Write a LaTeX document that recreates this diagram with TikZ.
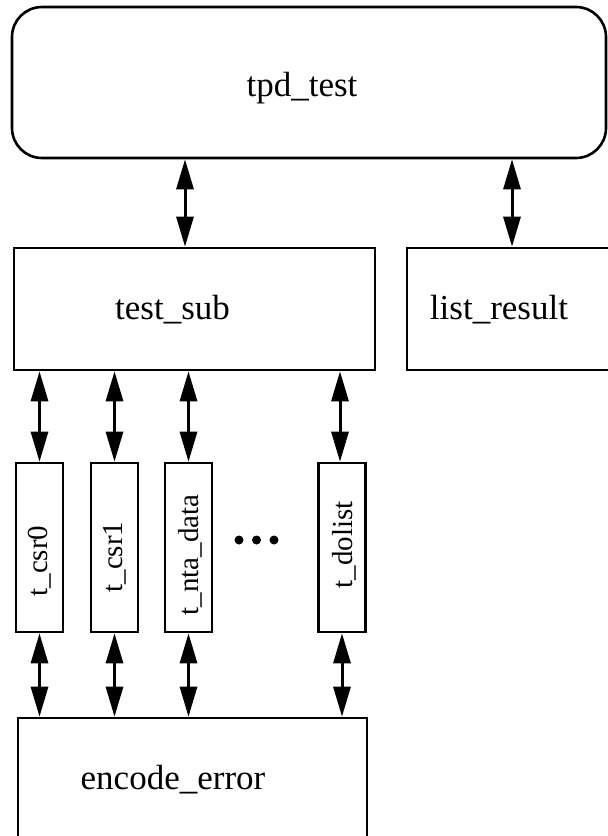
\documentclass[tikz,border=0pt]{standalone}
\usepackage{fontspec}
\setmainfont{Liberation Serif}
\usetikzlibrary{arrows.meta}
\begin{document}
\begin{tikzpicture}[x=1pt,y=-1pt,
  box/.style={draw=black,line width=2.6pt,inner sep=0pt},
  lbl/.style={font=\fontsize{35}{40}\selectfont,inner sep=0pt},
  slbl/.style={font=\fontsize{29}{32}\selectfont,inner sep=0pt,rotate=90},
  dbl/.style={line width=3pt,{Triangle[length=30pt,width=17pt]}-{Triangle[length=30pt,width=17pt]},shorten <=0pt,shorten >=0pt}]
\useasboundingbox (0,0) rectangle (608,836);
% boxes
\node[box,rounded corners=30pt,minimum width=594pt,minimum height=151pt] (tpd) at (309,82.5) {};
\node[lbl] (tpdt) at (302,88) {tpd\_test};
\node[box,minimum width=361pt,minimum height=122pt] (tsub) at (194.5,309) {};
\node[lbl] (tsubt) at (172.5,310) {test\_sub};
\node[box,minimum width=210pt,minimum height=122pt] (lres) at (512,309) {};
\node[lbl] (lrest) at (499,310) {list\_result};
\node[box,minimum width=47pt,minimum height=169pt] (c0) at (39.5,547.5) {};
\node[slbl] (c0t) at (40,561) {t\_csr0};
\node[box,minimum width=47pt,minimum height=169pt] (c1) at (114.5,547.5) {};
\node[slbl] (c1t) at (115,557) {t\_csr1};
\node[box,minimum width=47pt,minimum height=169pt] (c2) at (188.5,547.5) {};
\node[slbl] (c2t) at (190,555) {t\_nta\_data};
\node[box,minimum width=47pt,minimum height=169pt] (c3) at (342,547.5) {};
\node[slbl] (c3t) at (344,545) {t\_dolist};
\node[box,minimum width=349pt,minimum height=140pt] (enc) at (192.5,788) {};
\node[lbl] (enct) at (173,780) {encode\_error};
% dots
\fill (239,540) circle (4.5pt) (256.5,540) circle (4.5pt) (274,540) circle (4.5pt);
% connectors
\coordinate (a1) at (185,0);
\coordinate (a2) at (512,0);
\draw[dbl] (tpd.south -| a1) -- (tsub.north -| a1);
\draw[dbl] (tpd.south -| a2) -- (lres.north -| a2);
\draw[dbl] (tsub.south -| c0.north) -- (c0.north);
\draw[dbl] (tsub.south -| c1.north) -- (c1.north);
\draw[dbl] (tsub.south -| c2.north) -- (c2.north);
\draw[dbl] ([xshift=-2pt]tsub.south -| c3.north) -- ([xshift=-2pt]c3.north);
\draw[dbl] (c0.south) -- (enc.north -| c0.south);
\draw[dbl] (c1.south) -- (enc.north -| c1.south);
\draw[dbl] (c2.south) -- (enc.north -| c2.south);
\draw[dbl] (c3.south) -- (enc.north -| c3.south);
\end{tikzpicture}
\end{document}
